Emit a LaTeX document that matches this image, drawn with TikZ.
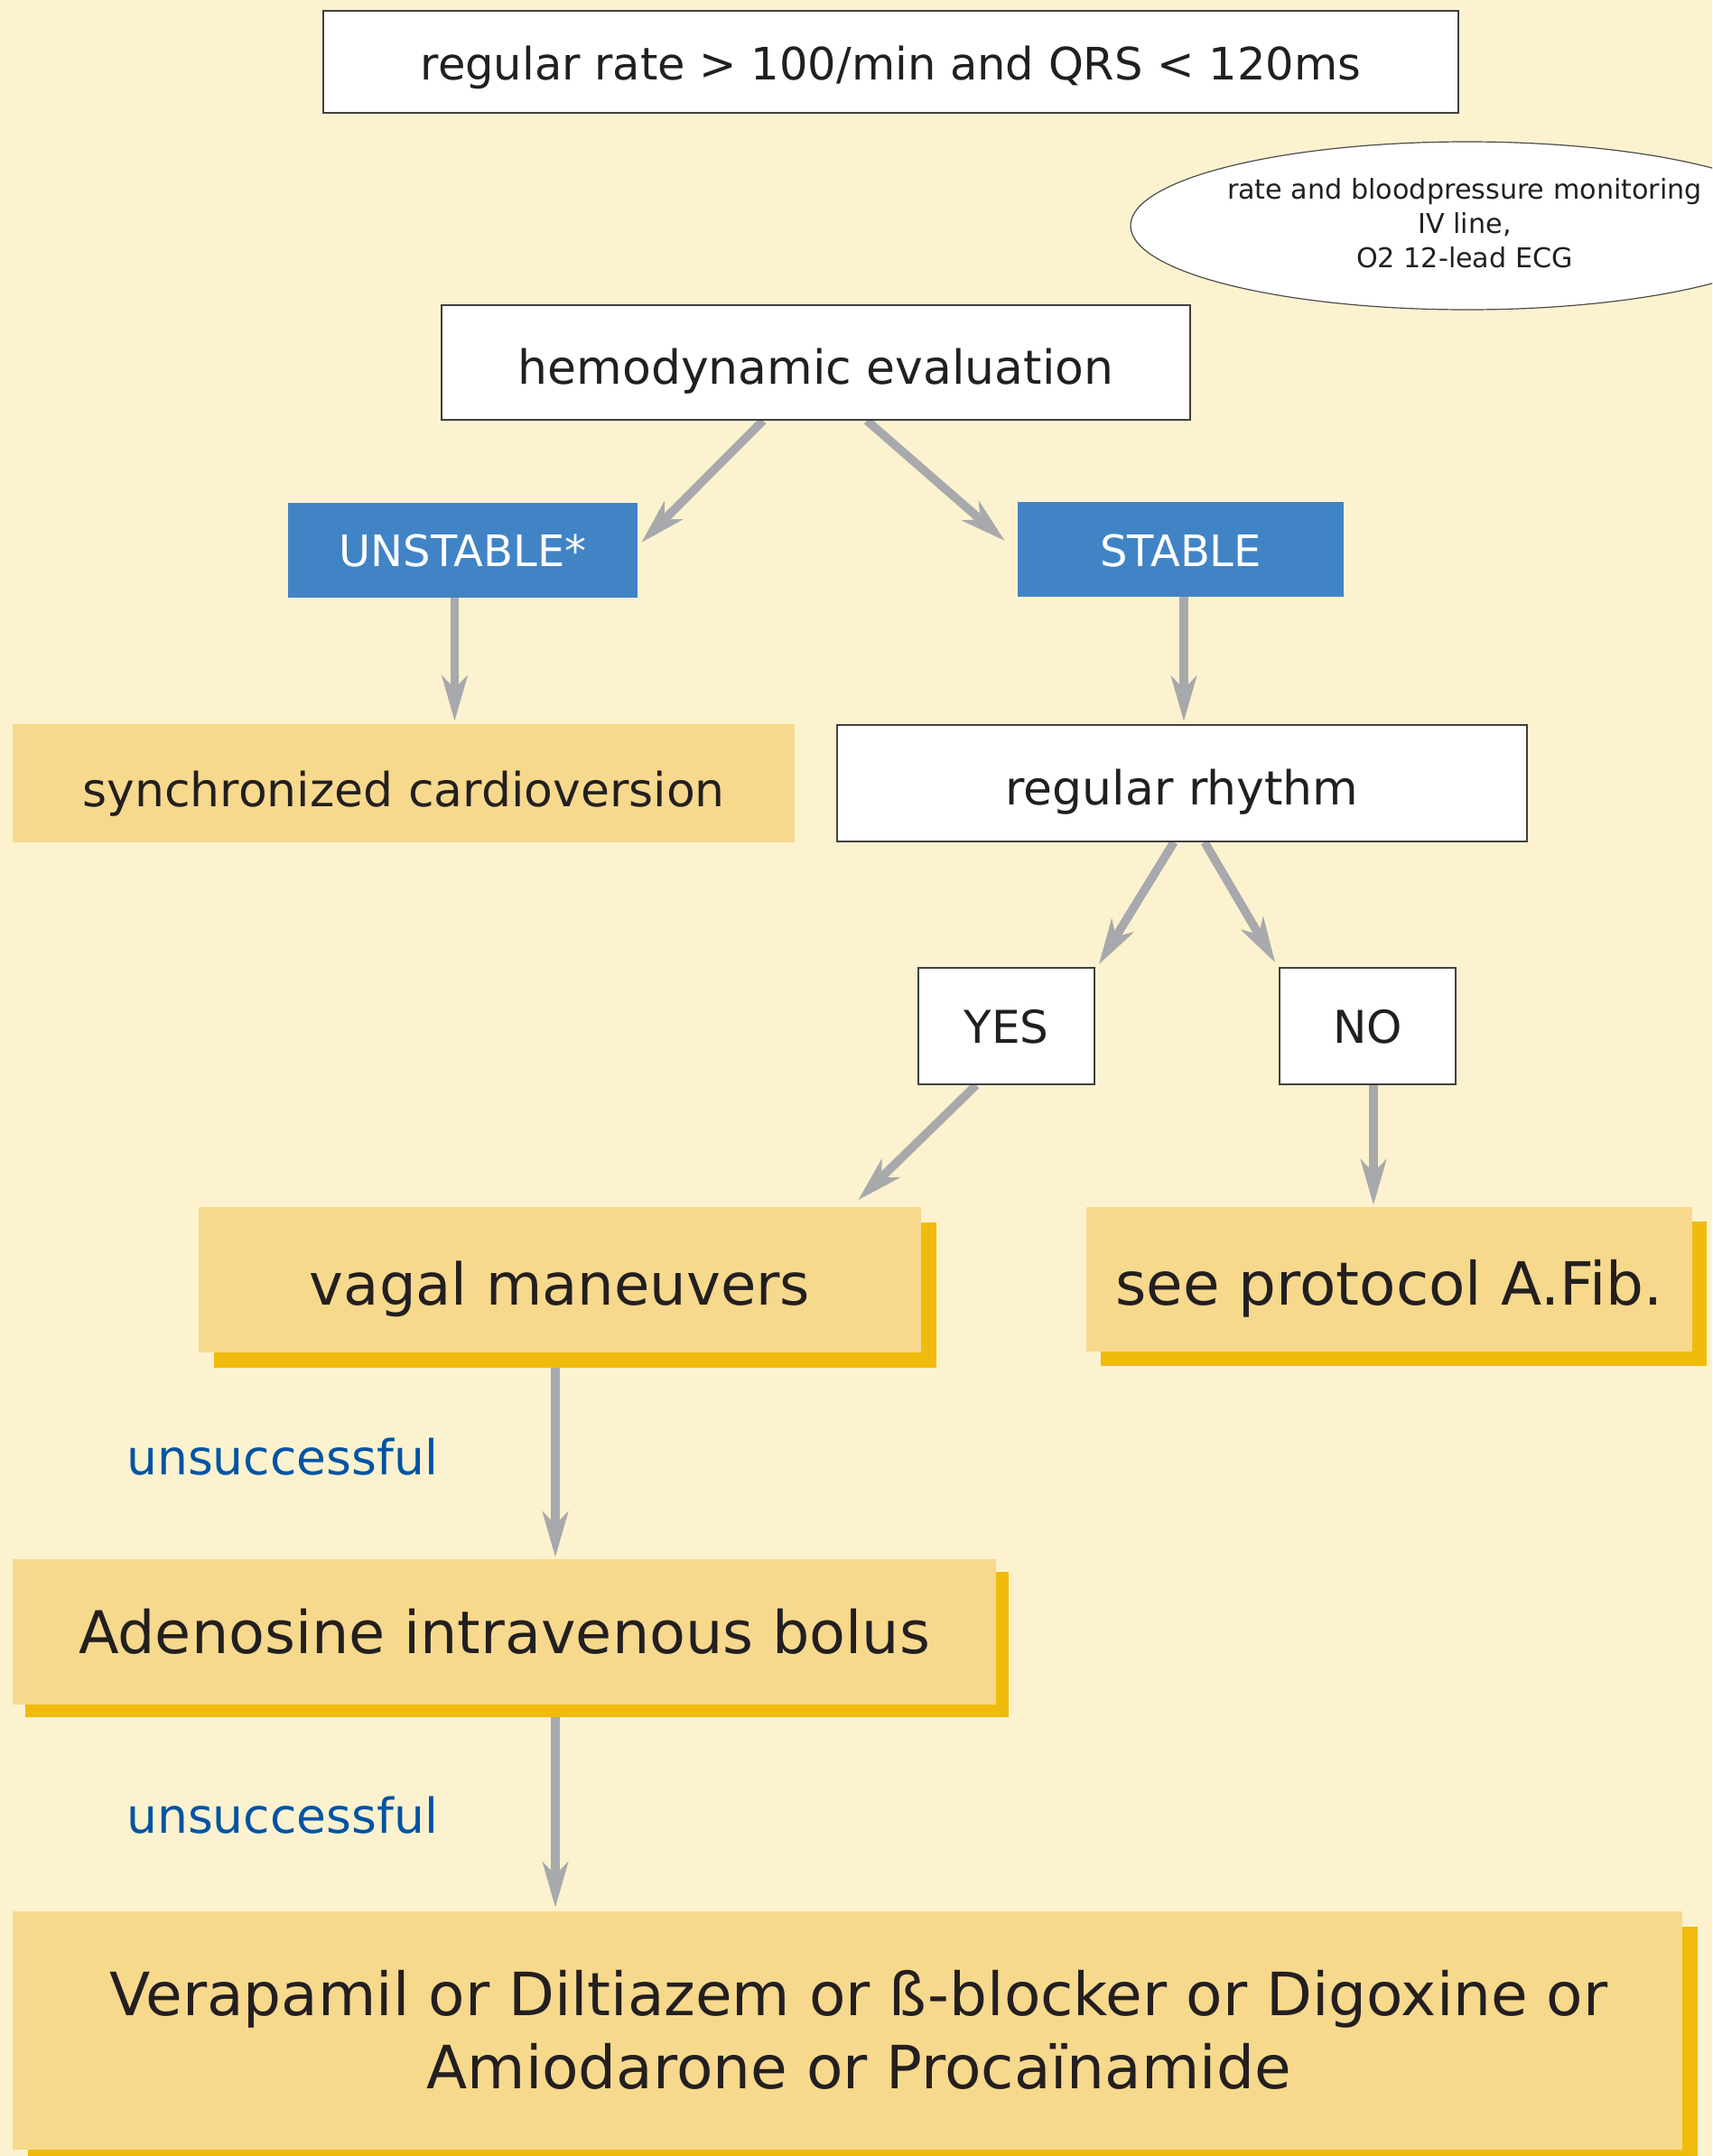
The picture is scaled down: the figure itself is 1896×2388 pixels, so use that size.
\documentclass[tikz,border=0pt]{standalone}
\usepackage{fontspec}
\setmainfont{DejaVu Sans}
\usetikzlibrary{shapes.geometric,arrows.meta,shadows,calc}
\definecolor{bgcream}{RGB}{253,242,207}
\definecolor{tan}{RGB}{247,217,141}
\definecolor{gold}{RGB}{240,187,12}
\definecolor{boxblue}{RGB}{65,132,197}
\definecolor{arrgray}{RGB}{167,169,172}
\definecolor{txt}{RGB}{35,31,32}
\definecolor{bluetxt}{RGB}{0,84,164}
\pgfdeclarelayer{bg}
\pgfdeclarelayer{arrows}
\pgfsetlayers{bg,arrows,main}
\tikzset{
  whitebox/.style={draw=black!75, line width=1.6pt, fill=white, text=txt, inner sep=0pt},
  bluebox/.style={fill=boxblue, text=white, inner sep=0pt},
  tanbox/.style={fill=tan, text=txt, inner sep=0pt},
  shadowbox/.style={fill=tan, text=txt, inner sep=0pt,
     general shadow={shadow xshift=#1, shadow yshift=-#1, fill=gold}},
  th/.style={text height=#1, text depth=0pt},
  arr/.style={draw=arrgray, line width=9.5pt,
     -{Stealth[length=50pt,width=28pt,inset=14pt]}},
  bluelabel/.style={text=bluetxt, inner sep=0pt, anchor=base west,
     font=\fontsize{53.5}{60}\selectfont},
}
\begin{document}
\begin{tikzpicture}[x=1pt,y=-1pt]
\useasboundingbox (0,0) rectangle (1896,2388);
\clip (0,0) rectangle (1896,2388);
\begin{pgfonlayer}{bg}
\fill[bgcream] (0,0) rectangle (1896,2388);
\end{pgfonlayer}

% boxes
\node[whitebox, minimum width=1257pt, minimum height=113pt, th=39pt,
  font=\fontsize{49.5}{59}\selectfont] (top) at (986.5,68.5)
  {regular rate > 100/min and QRS < 120ms};

\node[ellipse, draw=black!70, line width=1.2pt, fill=white,
  minimum width=746pt, minimum height=186pt] (mon) at (1625,250) {};
\node[align=center, text=txt, inner sep=0pt,
  font=\fontsize{30.2}{38}\selectfont] (montext) at (1622,247)
  {rate and bloodpressure monitoring\\IV line,\\O2 12-lead ECG};

\node[whitebox, minimum width=829pt, minimum height=127pt, th=47pt,
  font=\fontsize{52}{60}\selectfont] (hemo) at (903.5,401.5)
  {hemodynamic evaluation};

\node[bluebox, minimum width=387pt, minimum height=105pt, th=35pt,
  font=\fontsize{48}{56}\selectfont] (unstable) at (512.5,609.5)
  {UNSTABLE*};
\node[bluebox, minimum width=361pt, minimum height=105pt, th=37pt,
  font=\fontsize{48}{56}\selectfont] (stable) at (1307.5,608.5)
  {STABLE};

\node[tanbox, minimum width=866pt, minimum height=131pt, th=51pt,
  font=\fontsize{52}{60}\selectfont] (sync) at (447,867.5)
  {synchronized cardioversion};
\node[whitebox, minimum width=764pt, minimum height=129pt, th=48pt,
  font=\fontsize{52}{60}\selectfont] (rhythm) at (1309,867.5)
  {regular rhythm};

\node[whitebox, minimum width=195pt, minimum height=129pt, th=37pt,
  font=\fontsize{50}{58}\selectfont] (yes) at (1114.5,1136.5) {YES};
\node[whitebox, minimum width=195pt, minimum height=129pt, th=37pt,
  font=\fontsize{50}{58}\selectfont] (no) at (1514.5,1136.5) {NO};

\node[shadowbox=17pt, minimum width=800pt, minimum height=161pt, th=55pt,
  font=\fontsize{64}{72}\selectfont] (vagal) at (620,1417.5)
  {vagal maneuvers};
\node[shadowbox=16pt, minimum width=671pt, minimum height=160pt, th=56pt,
  font=\fontsize{66}{72}\selectfont] (afib) at (1538.5,1417)
  {see protocol A.Fib.};

\node[shadowbox=14pt, minimum width=1089pt, minimum height=161pt, th=47pt,
  font=\fontsize{65.2}{72}\selectfont] (adeno) at (558.5,1807.5)
  {Adenosine intravenous bolus};

\node[shadowbox=17pt, minimum width=1849pt, minimum height=264pt] (final) at (938.5,2249) {};
\node[align=center, text=txt, inner sep=0pt,
  font=\fontsize{66.1}{81}\selectfont] (finaltext) at (951,2248)
  {Verapamil or Diltiazem or ß-blocker or Digoxine or\\Amiodarone or Procaïnamide};

\node[bluelabel] (u1) at (140,1633) {unsuccessful};
\node[bluelabel] (u2) at (140,2030) {unsuccessful};

% connectors
\begin{pgfonlayer}{arrows}
\draw[arr] ([shift={(-58.5,0)}]hemo.south) -- ([shift={(4,-8.5)}]unstable.east);
\draw[arr] ([shift={(56.5,0)}]hemo.south) -- ([shift={(-14,-9.5)}]stable.west);
\draw[arr] ([shift={(-9,0)}]unstable.south) -- ([shift={(56.5,-3)}]sync.north);
\draw[arr] ([shift={(3.5,0)}]stable.south) -- ([shift={(2,-3)}]rhythm.north);
\draw[arr] ([shift={(-9,0)}]rhythm.south) -- ([shift={(4,-3)}]yes.north east);
\draw[arr] ([shift={(25,0)}]rhythm.south) -- ([shift={(-4,-5)}]no.north west);
\draw[arr] ([shift={(-33.5,0)}]yes.south) -- ([shift={(-70,-7.5)}]vagal.north east);
\draw[arr] ([shift={(6.5,0)}]no.south) -- ([shift={(-17.5,-2)}]afib.north);
\draw[arr] ([shift={(-5,0)}]vagal.south) -- ([shift={(56.5,-2)}]adeno.north);
\draw[arr] ([shift={(56.5,0)}]adeno.south) -- ([shift={(-323.5,-4)}]final.north);
\end{pgfonlayer}
\end{tikzpicture}
\end{document}
